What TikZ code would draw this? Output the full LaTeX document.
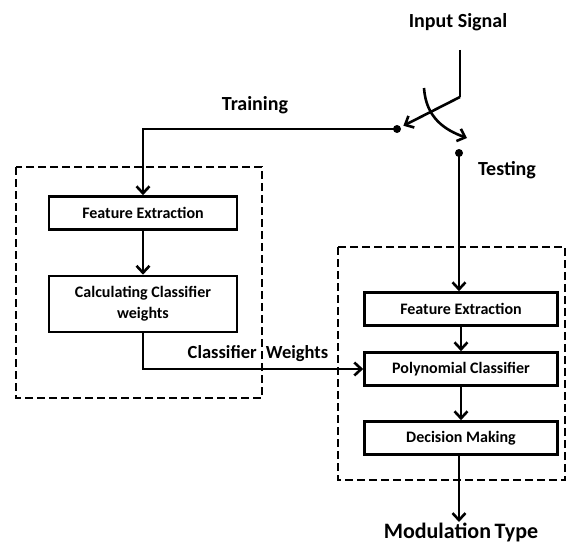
\documentclass[tikz,border=0pt]{standalone}
\usepackage{fontspec}
\setmainfont{Carlito}
\usetikzlibrary{arrows.meta,positioning}
\tikzset{
  every node/.style={font=\bfseries},
  blk/.style={draw,line width=2.6pt,minimum width=188pt,minimum height=33pt,
              align=center,font=\bfseries\fontsize{16}{21}\selectfont,inner sep=2pt},
  lbl/.style={font=\bfseries\fontsize{20}{24}\selectfont,inner sep=1pt},
  dot/.style={circle,fill,inner sep=0pt,minimum size=8pt},
  ar/.style={-{Straight Barb[length=7pt,width=13pt,line width=2.6pt]},line width=2.6pt},
  ln/.style={line width=2.6pt},
  dbox/.style={line width=2.6pt,dash pattern=on 8pt off 4pt},
}
\begin{document}
\begin{tikzpicture}[x=1pt,y=-1pt]
\useasboundingbox (0,0) rectangle (573,543);

% ---- labels ----
\node[lbl] (inp) at (458,22) {Input Signal};
\node[lbl] (trn) at (255,105) {Training};
\node[lbl] (tst) at (507,170) {Testing};
\node[lbl,font=\bfseries\fontsize{18.5}{22}\selectfont] (cwl) at (258,354) {Classifier\; Weights};
\node[lbl,font=\bfseries\fontsize{22}{26}\selectfont,anchor=north] (mod) at (461,522) {Modulation\,Type};

% ---- switch ----
\coordinate (s0) at (460,50);
\coordinate (s1) at (460,97);
\node[dot] (dl) at (397,129) {};
\node[dot] (dr) at (459,153) {};
\draw[ln] (s0) -- (s1);
\draw[ar,shorten >=3pt] (s1) -- (dl);
\draw[ar] (424,88) .. controls (426,118) and (445,130) .. (467,138);

% ---- training ----
\draw[dbox] (16,167) rectangle (262,398);
\node[blk] (fe1) at (143,213) {Feature Extraction};
\node[blk,minimum height=56pt] (cw) at (143,304) {Calculating Classifier\\weights};

% ---- testing ----
\draw[dbox] (338,247) rectangle (565,480);
\node[blk,minimum width=193pt] (fe2) at (461,309) {Feature Extraction};
\node[blk,minimum width=193pt] (pc) at (461,369) {Polynomial Classifier};
\node[blk,minimum width=193pt] (dm) at (461,438) {Decision Making};

% ---- connectors ----
\draw[ar] (dl.center) -| (fe1.north);
\draw[ar] (fe1) -- (cw);
\draw[ar] (cw.south) |- (pc.west);
\draw[ar] (dr.center) -- (dr|-fe2.north);
\draw[ar] (fe2) -- (fe2|-pc.north);
\draw[ar] (pc) -- (pc|-dm.north);
\draw[ar] (dm.south-|dr) -- (mod.north-|dr);

\end{tikzpicture}
\end{document}
